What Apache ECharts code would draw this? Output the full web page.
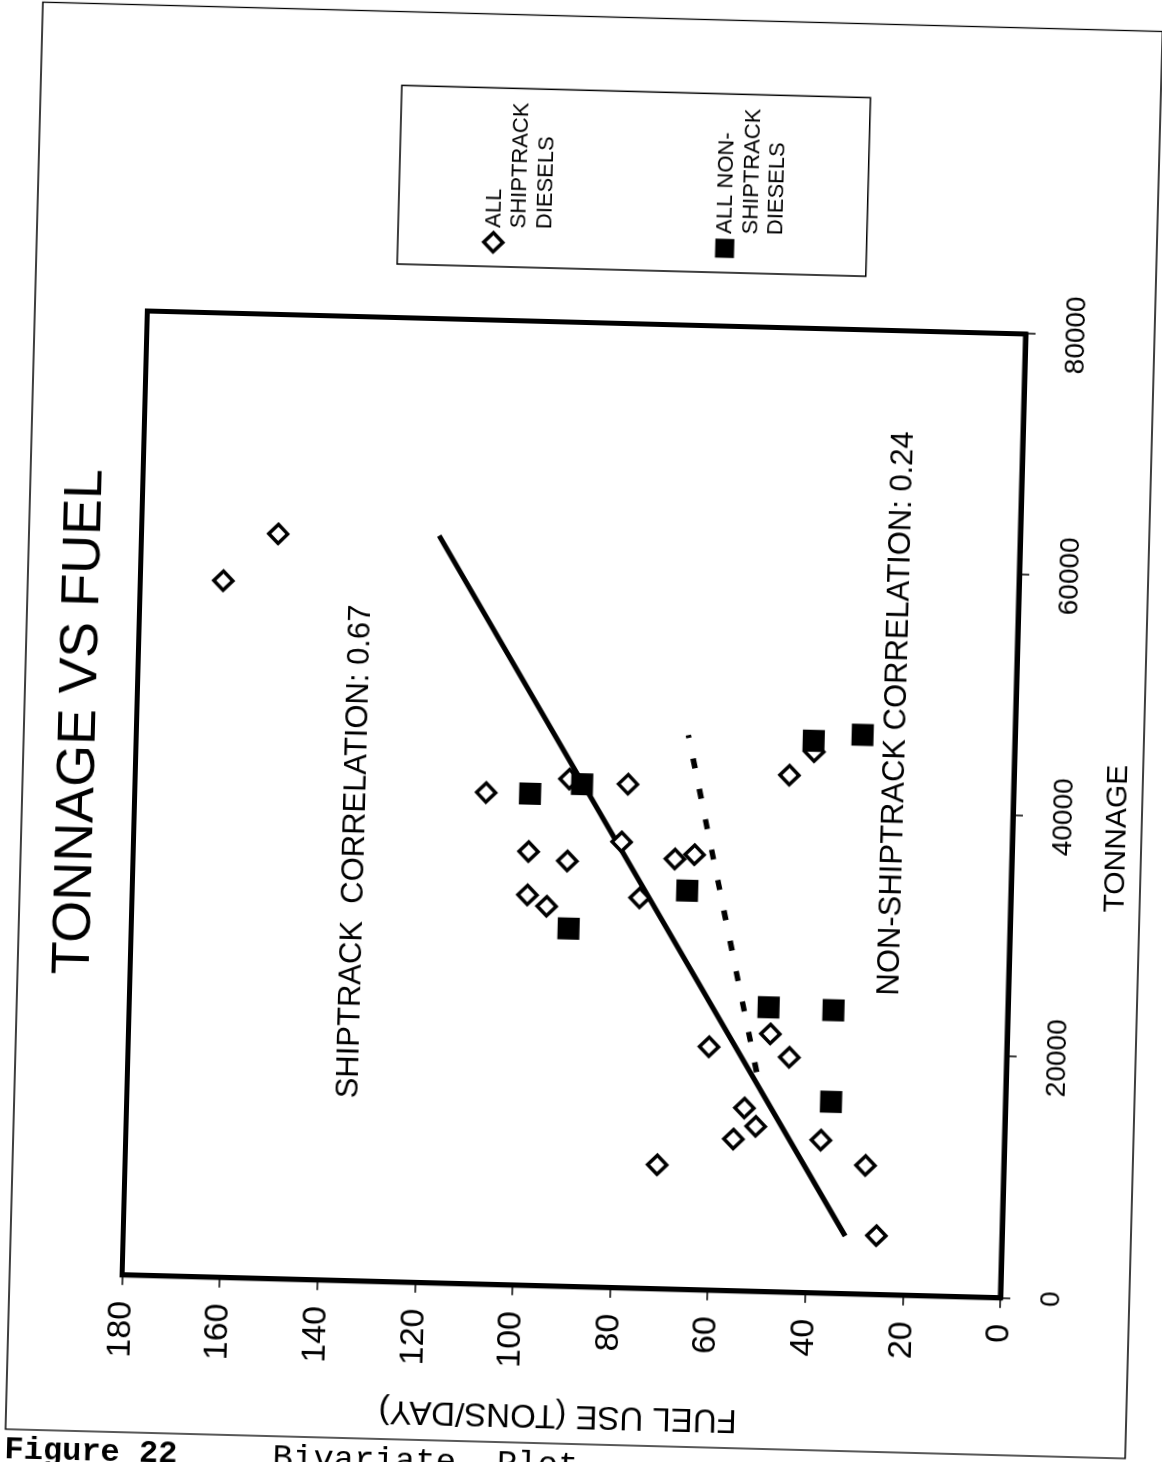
<!DOCTYPE html>
<html>
<head>
<meta charset="utf-8">
<script src="https://cdn.jsdelivr.net/npm/echarts@6/dist/echarts.min.js"></script>
<style>
html,body{margin:0;padding:0;width:1162px;height:1462px;overflow:hidden;background:#fff;}
#chart{position:absolute;left:-170px;top:130px;width:1502px;height:1202px;transform:rotate(-88.5deg);transform-origin:50% 50%;background:#fff;}
</style>
</head>
<body>
<div id="chart"></div>
<script>
// ---- data ----
const tonnageTicks = [0, 20000, 40000, 60000, 80000];
const fuelTicks = [0, 20, 40, 60, 80, 100, 120, 140, 160, 180];

const shiptrackTonnage = [61800, 57800, 40800, 42100, 41800, 36000, 35300, 32400, 31500, 37000, 32400, 35700, 36100, 42900, 44900, 20200, 21400, 19500, 15200, 13700, 12600, 10300, 12700, 10700, 4900];
const shiptrackFuel    = [152, 163, 108, 91, 79, 99, 91, 99, 95, 80, 76, 69, 65, 46, 41, 61, 48.5, 44.5, 53.4, 51, 55.5, 71, 37.6, 28.3, 25.7];

const nonShiptrackTonnage = [40800, 41700, 29700, 33100, 45800, 46400, 23600, 23500, 15900];
const nonShiptrackFuel    = [99, 88.4, 90.4, 66.3, 41.2, 31.2, 49, 35.7, 35.7];

const shiptrackFitTonnage = [4800, 62000];
const shiptrackFitFuel    = [32.1, 119];
const nonShiptrackFitTonnage = [18200, 46000];
const nonShiptrackFitFuel    = [51.1, 66.9];

const seriesNames = ['ALL\nSHIPTRACK\nDIESELS', 'ALL NON-\nSHIPTRACK\nDIESELS'];
const titleText = 'TONNAGE VS FUEL';
const shipCorrText = 'SHIPTRACK  CORRELATION: 0.67';
const nonShipCorrText = 'NON-SHIPTRACK CORRELATION: 0.24';
const captionA = 'Figure 22';
const captionB = 'Bivariate  Plot';

const zip = (a, b) => a.map((v, i) => [v, b[i]]);
const FONT = '"Liberation Sans", Arial, sans-serif';
const MONO = '"Liberation Mono", "Courier New", monospace';

const chart = echarts.init(document.getElementById('chart'), null, {renderer: 'canvas'});
chart.setOption({
  animation: false,
  backgroundColor: '#fff',
  title: {
    text: titleText,
    left: 747, top: 100, padding: 0,
    textAlign: 'center', textVerticalAlign: 'middle',
    textStyle: {fontFamily: FONT, fontSize: 54, fontWeight: 'normal', color: '#000'}
  },
  legend: {
    orient: 'vertical',
    left: 1213, top: 405,
    padding: [31.75, 14, 78, 13],
    itemGap: 104,
    itemWidth: 19, itemHeight: 19,
    borderColor: '#000', borderWidth: 1.5,
    selectedMode: false,
    // two blank lines first so that the first text line sits level with the symbol
    formatter: name => '\n\n' + name,
    textStyle: {fontFamily: FONT, fontSize: 22, lineHeight: 25.5, color: '#000'},
    data: [
      {name: seriesNames[0], itemStyle: {color: '#fff', borderColor: '#000', borderWidth: 3.5, opacity: 1}},
      {name: seriesNames[1], itemStyle: {color: '#000', borderWidth: 0, opacity: 1}}
    ]
  },
  grid: {
    left: 195.2, top: 156.5, width: 964.3, height: 878.4,
    show: true, borderColor: '#000', borderWidth: 5, backgroundColor: 'transparent'
  },
  xAxis: {
    type: 'value',
    min: tonnageTicks[0], max: tonnageTicks[tonnageTicks.length - 1],
    interval: tonnageTicks[1] - tonnageTicks[0],
    name: 'TONNAGE', nameLocation: 'middle', nameGap: 105,
    nameTextStyle: {fontFamily: FONT, fontSize: 30, color: '#000', verticalAlign: 'middle', padding: [0, 40, 0, 0]},
    axisLine: {show: true, lineStyle: {color: '#000', width: 5}},
    axisTick: {show: true, length: 10, lineStyle: {color: '#000', width: 1.5}},
    splitLine: {show: false},
    axisLabel: {fontFamily: FONT, fontSize: 28, color: '#000', margin: 37, formatter: v => String(v)}
  },
  yAxis: {
    type: 'value',
    min: fuelTicks[0], max: fuelTicks[fuelTicks.length - 1],
    interval: fuelTicks[1] - fuelTicks[0],
    name: 'FUEL USE (TONS/DAY)', nameLocation: 'middle', nameGap: 128, nameRotate: 90,
    nameTextStyle: {fontFamily: FONT, fontSize: 33, color: '#000', verticalAlign: 'middle'},
    axisLine: {show: true, lineStyle: {color: '#000', width: 5}},
    axisTick: {show: true, length: 10, lineStyle: {color: '#000', width: 1.5}},
    splitLine: {show: false},
    axisLabel: {fontFamily: FONT, fontSize: 34, color: '#000', margin: 26, formatter: v => String(v)}
  },
  series: [
    {
      name: 'shiptrack fit', type: 'line', data: zip(shiptrackFitTonnage, shiptrackFitFuel),
      symbol: 'none', silent: true, z: 1,
      lineStyle: {color: '#000', width: 5, type: 'solid', opacity: 1}
    },
    {
      name: 'non-shiptrack fit', type: 'line', data: zip(nonShiptrackFitTonnage, nonShiptrackFitFuel),
      symbol: 'none', silent: true, z: 1,
      lineStyle: {color: '#000', width: 5.5, type: [10, 21], opacity: 1}
    },
    {
      name: seriesNames[0], type: 'scatter', data: zip(shiptrackTonnage, shiptrackFuel),
      symbol: 'diamond', symbolSize: 19, z: 3,
      itemStyle: {color: '#fff', borderColor: '#000', borderWidth: 3.5, opacity: 1}
    },
    {
      name: seriesNames[1], type: 'scatter', data: zip(nonShiptrackTonnage, nonShiptrackFuel),
      symbol: 'rect', symbolSize: 22, z: 4,
      itemStyle: {color: '#000', opacity: 1}
    }
  ],
  graphic: [
    {
      type: 'rect', silent: true, z: -10,
      shape: {x: 38, y: 44, width: 1427.5, height: 1120},
      style: {fill: 'none', stroke: '#000', lineWidth: 1.3}
    },
    {
      type: 'text', silent: true, x: 624.6, y: 378.2,
      style: {text: shipCorrText, font: '31px ' + FONT, fill: '#000', align: 'center', textAlign: 'center', verticalAlign: 'middle', textVerticalAlign: 'middle'}
    },
    {
      type: 'text', silent: true, x: 776.8, y: 916.4,
      style: {text: nonShipCorrText, font: '31px ' + FONT, fill: '#000', align: 'center', textAlign: 'center', verticalAlign: 'middle', textVerticalAlign: 'middle'}
    },
    {
      type: 'group', x: 33, y: 43.6, rotation: -Math.PI / 2, silent: true,
      children: [
        {type: 'text', x: 0, y: 0, style: {text: captionA, font: 'bold 32px ' + MONO, fill: '#000', align: 'left', textAlign: 'left', verticalAlign: 'top', textVerticalAlign: 'top'}},
        {type: 'text', x: 268, y: 0, style: {text: captionB, font: '34px ' + MONO, fill: '#000', align: 'left', textAlign: 'left', verticalAlign: 'top', textVerticalAlign: 'top'}}
      ]
    }
  ]
});
</script>
</body>
</html>
